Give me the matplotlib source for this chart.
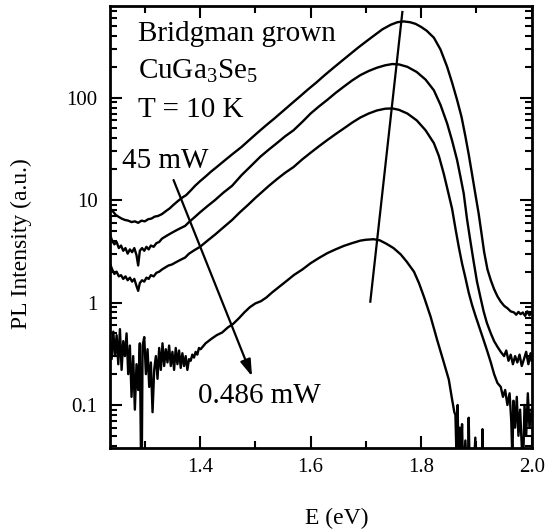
import numpy as np
import matplotlib
matplotlib.use("Agg")
import matplotlib.pyplot as plt
from matplotlib.ticker import LogLocator, MultipleLocator, FixedLocator, FixedFormatter, NullFormatter

plt.rcParams["font.family"] = "Liberation Serif"
plt.rcParams["mathtext.fontset"] = "custom"
plt.rcParams["mathtext.rm"] = "Liberation Serif"
plt.rcParams["mathtext.it"] = "Liberation Serif:italic"

# ---- spectra: photon energy (eV) / PL intensity (a.u.)
# 45 mW
E_a = [1.237, 1.242, 1.247, 1.252, 1.258, 1.264, 1.270, 1.276, 1.282, 1.288,
       1.294, 1.300, 1.306, 1.312, 1.318, 1.324, 1.331, 1.338, 1.345, 1.352,
       1.360, 1.368, 1.375, 1.383, 1.391, 1.400, 1.410, 1.420, 1.430, 1.445,
       1.460, 1.475, 1.490, 1.505, 1.520, 1.535, 1.550, 1.565, 1.580, 1.595,
       1.610, 1.625, 1.640, 1.655, 1.670, 1.685, 1.700, 1.715, 1.730, 1.745,
       1.757, 1.768, 1.780, 1.790, 1.800, 1.810, 1.823, 1.835, 1.847, 1.856,
       1.865, 1.873, 1.880, 1.886, 1.892, 1.898, 1.904, 1.909, 1.914, 1.920,
       1.926, 1.932, 1.938, 1.944, 1.950, 1.956, 1.962, 1.968, 1.972, 1.976,
       1.980, 1.984, 1.988, 1.992, 1.996, 2.000]
I_a = [8.3, 7.8, 7.2, 6.9, 6.6, 6.4, 6.3, 6.1, 6.2, 6.0,
       6.3, 6.2, 6.5, 6.6, 6.9, 7.0, 7.3, 7.8, 8.3, 9.0,
       9.8, 10.6, 11.2, 12.4, 13.8, 15.3, 17.0, 19.0, 21.0, 24.5,
       28.5, 33, 39, 46, 54, 63, 74, 87, 102, 120,
       140, 165, 193, 225, 262, 305, 352, 405, 465, 515,
       545, 555, 545, 525, 490, 450, 385, 295, 200, 140,
       95, 65, 42, 28, 18, 11.5, 7.4, 4.8, 3.1, 2.1,
       1.65, 1.35, 1.15, 1.02, 0.93, 0.88, 0.82, 0.80, 0.76, 0.81,
       0.77, 0.80, 0.74, 0.82, 0.75, 0.80]

E_b = [1.237, 1.241, 1.245, 1.249, 1.253, 1.257, 1.261, 1.265, 1.269, 1.273,
       1.277, 1.281, 1.285, 1.288, 1.291, 1.295, 1.299, 1.303, 1.307, 1.311,
       1.316, 1.321, 1.326, 1.331, 1.337, 1.343, 1.349, 1.355, 1.361, 1.367,
       1.373, 1.380, 1.390, 1.400, 1.413, 1.427, 1.442, 1.458, 1.475, 1.490,
       1.509, 1.524, 1.539, 1.554, 1.569, 1.585, 1.600, 1.615, 1.630, 1.645,
       1.660, 1.675, 1.690, 1.705, 1.720, 1.735, 1.748, 1.760, 1.775, 1.792,
       1.808, 1.823, 1.835, 1.847, 1.856, 1.865, 1.871, 1.877, 1.883, 1.889,
       1.895, 1.901, 1.907, 1.913, 1.919, 1.926, 1.932, 1.938, 1.944, 1.950,
       1.954, 1.958, 1.962, 1.966, 1.970, 1.974, 1.978, 1.982, 1.986, 1.990,
       1.994, 1.998, 2.000]
I_b = [4.6, 4.0, 3.7, 3.9, 3.4, 3.6, 3.2, 3.4, 3.0, 3.3,
       3.1, 3.4, 2.9, 2.3, 3.2, 3.4, 3.2, 3.5, 3.3, 3.6,
       3.5, 3.8, 3.9, 4.2, 4.4, 4.6, 4.8, 5.0, 5.2, 5.4,
       5.6, 6.1, 6.8, 7.6, 8.7, 10.0, 11.8, 13.8, 17.5, 21,
       26.5, 31, 36, 42, 48, 58, 70, 82, 95, 111,
       128, 147, 166, 182, 196, 207, 213, 211, 200, 178,
       150, 118, 85, 56, 38, 24.6, 17, 11.6, 6.5, 4.0,
       2.5, 1.6, 1.14, 0.82, 0.63, 0.50, 0.42, 0.37, 0.33, 0.30,
       0.34, 0.27, 0.31, 0.25, 0.30, 0.26, 0.31, 0.24, 0.28, 0.33,
       0.25, 0.32, 0.27]

E_c = [1.237, 1.241, 1.245, 1.249, 1.253, 1.257, 1.261, 1.265, 1.269, 1.273,
       1.277, 1.281, 1.285, 1.288, 1.291, 1.295, 1.299, 1.303, 1.307, 1.311,
       1.316, 1.321, 1.326, 1.331, 1.337, 1.343, 1.349, 1.355, 1.361, 1.367,
       1.373, 1.380, 1.390, 1.400, 1.413, 1.427, 1.442, 1.458, 1.472, 1.487,
       1.500, 1.509, 1.524, 1.539, 1.554, 1.569, 1.585, 1.600, 1.615, 1.630,
       1.645, 1.660, 1.675, 1.690, 1.705, 1.720, 1.735, 1.748, 1.760, 1.775,
       1.792, 1.808, 1.823, 1.832, 1.841, 1.848, 1.856, 1.862, 1.868, 1.874,
       1.880, 1.886, 1.892, 1.898, 1.904, 1.913, 1.920, 1.926, 1.932, 1.938,
       1.944, 1.948, 1.952, 1.956, 1.960, 1.963, 1.965, 1.967, 1.970, 1.973,
       1.976, 1.979, 1.982, 1.984, 1.987, 1.990, 1.993, 1.996, 2.000]
I_c = [2.4, 2.1, 1.9, 2.0, 1.8, 1.85, 1.7, 1.8, 1.65, 1.75,
       1.6, 1.7, 1.45, 1.3, 1.55, 1.65, 1.6, 1.75, 1.7, 1.85,
       1.8, 1.95, 2.0, 2.1, 2.2, 2.3, 2.35, 2.45, 2.55, 2.65,
       2.75, 3.0, 3.25, 3.5, 4.0, 4.6, 5.4, 6.4, 7.6, 9.0,
       10.5, 11.6, 13.7, 16, 18.5, 21, 25, 29, 33.5, 38.5,
       44, 50, 57, 64, 70, 75, 78, 78.5, 76, 70,
       60, 48, 36, 27, 18, 12.5, 8.2, 5.3, 3.5, 2.4,
       1.75, 1.25, 0.95, 0.75, 0.60, 0.43, 0.33, 0.26, 0.20, 0.164,
       0.15, 0.12, 0.14, 0.10, 0.13, 0.07, 0.03, 0.11, 0.06, 0.12,
       0.05, 0.09, 0.04, 0.02, 0.10, 0.05, 0.13, 0.06, 0.09]

# 0.486 mW
E_d = [1.237, 1.240, 1.243, 1.246, 1.249, 1.252, 1.255, 1.258, 1.261, 1.264,
       1.267, 1.270, 1.273, 1.276, 1.279, 1.282, 1.285, 1.288, 1.291, 1.294,
       1.296, 1.299, 1.302, 1.305, 1.308, 1.311, 1.314, 1.317, 1.320, 1.323,
       1.326, 1.329, 1.332, 1.335, 1.338, 1.341, 1.344, 1.347, 1.350, 1.353,
       1.356, 1.359, 1.362, 1.365, 1.368, 1.371, 1.374, 1.377, 1.380, 1.383,
       1.386, 1.389, 1.392, 1.395, 1.398, 1.401, 1.410, 1.420, 1.430, 1.440,
       1.450, 1.460, 1.470, 1.480, 1.490, 1.500, 1.510, 1.520, 1.530, 1.540,
       1.555, 1.570, 1.585, 1.600, 1.615, 1.630, 1.645, 1.660, 1.675, 1.690,
       1.700, 1.714, 1.725, 1.737, 1.750, 1.763, 1.774, 1.787, 1.796, 1.805,
       1.817, 1.829, 1.841, 1.850, 1.856, 1.860, 1.862, 1.864, 1.866, 1.868,
       1.870, 1.872, 1.874, 1.876, 1.880, 1.884, 1.886, 1.888, 1.892, 1.898,
       1.900, 1.906, 1.910, 1.911, 1.913, 1.930, 1.960, 2.000]
I_d = [0.45, 0.28, 0.52, 0.30, 0.48, 0.25, 0.55, 0.22, 0.42, 0.30,
       0.50, 0.20, 0.38, 0.12, 0.30, 0.09, 0.25, 0.14, 0.40, 0.01,
       0.38, 0.46, 0.20, 0.35, 0.15, 0.26, 0.085, 0.22, 0.30, 0.18,
       0.36, 0.22, 0.40, 0.24, 0.35, 0.26, 0.38, 0.24, 0.33, 0.22,
       0.36, 0.25, 0.34, 0.23, 0.32, 0.24, 0.30, 0.22, 0.28, 0.27,
       0.31, 0.29, 0.33, 0.31, 0.36, 0.35, 0.40, 0.44, 0.48, 0.51,
       0.57, 0.62, 0.70, 0.80, 0.90, 0.98, 1.03, 1.12, 1.25, 1.38,
       1.60, 1.86, 2.10, 2.42, 2.72, 3.03, 3.30, 3.57, 3.80, 4.02,
       4.10, 4.15, 4.05, 3.75, 3.40, 2.95, 2.50, 2.00, 1.55, 1.14,
       0.73, 0.43, 0.26, 0.177, 0.113, 0.085, 0.08, 0.03, 0.10, 0.02,
       0.06, 0.03, 0.065, 0.02, 0.045, 0.015, 0.075, 0.02, 0.01, 0.048,
       0.01, 0.01, 0.01, 0.058, 0.01, 0.01, 0.01, 0.01]

spectra = [(E_a, I_a), (E_b, I_b), (E_c, I_c), (E_d, I_d)]

# peak-shift guide line and power arrow (data coordinates)
shift_E = [1.766, 1.708]
shift_I = [686, 1.02]
arrow_from = (1.352, 15.7)
arrow_to = (1.494, 0.19)

x_major = [1.4, 1.6, 1.8, 2.0]
x_labels = ["1.4", "1.6", "1.8", "2.0"]
y_major = [0.1, 1, 10, 100]
y_labels = ["0.1", "1", "10", "100"]

fig = plt.figure(figsize=(5.45, 5.30), dpi=100)
ax = fig.add_axes([0.2018, 0.1547, 0.7738, 0.834])

for E, I in spectra:
    ax.plot(E, I, color="black", lw=1.7)

ax.plot(shift_E, shift_I, color="black", lw=1.6)
ax.annotate("", xy=arrow_to, xytext=arrow_from,
            arrowprops=dict(arrowstyle="-|>,head_length=0.5,head_width=0.16",
                            mutation_scale=20, lw=1.6, color="black",
                            shrinkA=0, shrinkB=0))

ax.set_yscale("log")
ax.set_xlim(1.237, 2.0)
ax.set_ylim(0.038, 785)

ax.xaxis.set_major_locator(FixedLocator(x_major))
ax.xaxis.set_major_formatter(FixedFormatter(x_labels))
ax.xaxis.set_minor_locator(MultipleLocator(0.1))
ax.yaxis.set_major_locator(FixedLocator(y_major))
ax.yaxis.set_major_formatter(FixedFormatter(y_labels))
ax.yaxis.set_minor_locator(LogLocator(base=10, subs=np.arange(2, 10), numticks=20))
ax.yaxis.set_minor_formatter(NullFormatter())

ax.tick_params(which="both", direction="in", top=True, right=True, width=1.5)
ax.tick_params(which="major", length=8.5)
ax.tick_params(which="minor", length=5)
ax.tick_params(axis="y", which="major", labelsize=15, pad=9)
ax.tick_params(axis="x", which="major", labelsize=15, pad=7)
for s in ax.spines.values():
    s.set_linewidth(2.0)

ax.set_xlabel("E (eV)", fontsize=17)
ax.set_ylabel("PL Intensity (a.u.)", fontsize=17)
ax.xaxis.set_label_coords(0.537, -0.136)
ax.yaxis.set_label_coords(-0.185, 0.463)

txt = dict(transform=ax.transAxes, fontsize=21, ha="left", va="baseline")
ax.text(0.066, 0.920, "Bridgman grown", **txt)
ax.text(0.066, 0.836, "CuGa$_3$Se$_5$", **txt)
ax.text(0.066, 0.749, "T = 10 K", **txt)
ax.text(0.028, 0.633, "45 mW", **txt)
ax.text(0.209, 0.102, "0.486 mW", **txt)

fig.savefig("out.png", dpi=100)
